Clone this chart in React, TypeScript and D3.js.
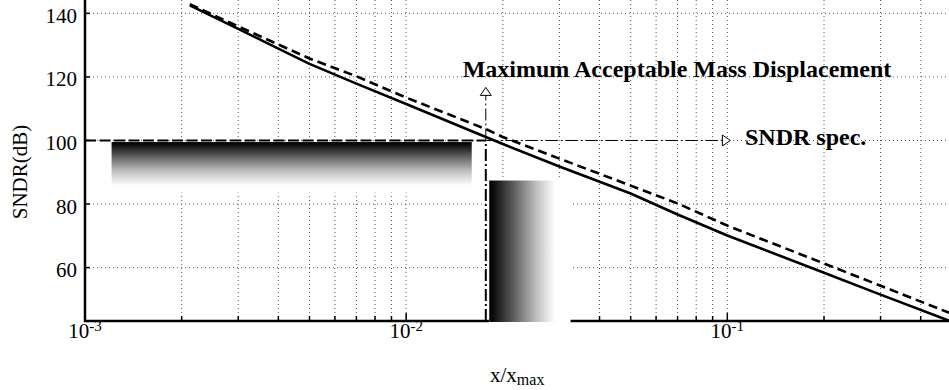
import React from 'react';
import * as d3 from 'd3';

// ---- data ----
const xPoints = [0.00212, 0.003, 0.004, 0.005, 0.007, 0.01, 0.0177, 0.02, 0.03, 0.05, 0.07, 0.1, 0.2, 0.3, 0.49];
const sndrSolid = [142.5, 135.1, 128.9, 124.1, 117.9, 111.5, 101.1, 98.9, 91.8, 83.3, 76.7, 70.1, 58.4, 51.5, 43.3];
const sndrDashed = [142.9, 135.9, 130.2, 125.8, 120.2, 113.5, 103.6, 101.1, 94.3, 85.8, 80.2, 73.2, 61.3, 54.3, 45.8];
const yTickValues = [60, 80, 100, 120, 140];
const xMajorValues = [0.001, 0.01, 0.1];
const xMajorExponents = ['-3', '-2', '-1'];
const specLevel = 100;
const maxDisplacement = 0.0177;
const arrowUpTop = 116.7;
const arrowRightTip = 0.1022;
const bandH = { x0: 0.00121, x1: 0.016, y0: 99.5, y1: 85.8 };
const bandV = { x0: 0.01814, x1: 0.0291, y0: 87.4 };
const axisGap = [0.0181, 0.0325];

const FONT = '"Liberation Serif", "Times New Roman", serif';

export default function App() {
  const W = 949, H = 390;
  const left = 85, right = 949, top = 0, bottom = 321;
  const x = d3.scaleLog().domain([0.001, 0.49]).range([left, right]);
  const y = d3.scaleLinear().domain([43.2, 144.2]).range([bottom, top]);
  const allTicks = x.ticks();
  const gridX = allTicks.filter((t) => t > 0.0011);
  const isMajor = (t: number) => Math.abs(Math.log10(t) - Math.round(Math.log10(t))) < 1e-6;

  const line = d3.line<[number, number]>().x((d) => x(d[0])).y((d) => y(d[1]));
  const solidPath = line(xPoints.map((v, i) => [v, sndrSolid[i]] as [number, number])) || '';
  const dashedPath = line(xPoints.map((v, i) => [v, sndrDashed[i]] as [number, number])) || '';

  const xv = x(maxDisplacement);
  const ys = y(specLevel);
  const upTipY = y(arrowUpTop);
  const rightTipX = x(arrowRightTip);

  return (
    <svg width={W} height={H} style={{ position: 'absolute', left: 0, top: 0, background: '#fff' }} fontFamily={FONT}>
      <defs>
        <clipPath id="plot">
          <rect x={left} y={top} width={right - left} height={bottom - top} />
        </clipPath>
        <linearGradient id="gradH" x1="0" y1="0" x2="0" y2="1">
          <stop offset="0" stopColor="#000" />
          <stop offset="0.08" stopColor="#111" />
          <stop offset="0.35" stopColor="#666" />
          <stop offset="0.65" stopColor="#bbb" />
          <stop offset="1" stopColor="#fff" />
        </linearGradient>
        <linearGradient id="gradV" x1="0" y1="0" x2="1" y2="0">
          <stop offset="0" stopColor="#000" />
          <stop offset="0.08" stopColor="#111" />
          <stop offset="0.4" stopColor="#666" />
          <stop offset="0.7" stopColor="#bbb" />
          <stop offset="1" stopColor="#fff" />
        </linearGradient>
      </defs>

      {/* grid */}
      <g stroke="#555" strokeWidth={1} strokeDasharray="1,3">
        {yTickValues.map((t) => (
          <line key={'gy' + t} x1={left} x2={right} y1={y(t)} y2={y(t)} />
        ))}
        {gridX.map((t) => (
          <line key={'gx' + t} x1={x(t)} x2={x(t)} y1={top} y2={bottom} />
        ))}
      </g>

      {/* shaded regions with white masks */}
      <rect x={x(bandH.x0) - 1} y={y(bandH.y0) - 1} width={x(bandH.x1) - x(bandH.x0) + 2} height={y(bandH.y1) - y(bandH.y0) + 8} fill="#fff" />
      <rect x={x(bandH.x0)} y={y(bandH.y0)} width={x(bandH.x1) - x(bandH.x0)} height={y(bandH.y1) - y(bandH.y0)} fill="url(#gradH)" />
      <rect x={x(axisGap[0]) - 1} y={y(bandV.y0) - 2} width={x(axisGap[1]) - x(axisGap[0]) + 1} height={bottom - y(bandV.y0) + 6} fill="#fff" />
      <rect x={x(bandV.x0)} y={y(bandV.y0)} width={x(bandV.x1) - x(bandV.x0)} height={bottom - y(bandV.y0) + 1} fill="url(#gradV)" />

      {/* data lines */}
      <g clipPath="url(#plot)" fill="none" stroke="#000">
        <path d={solidPath} strokeWidth={2.6} />
        <path d={dashedPath} strokeWidth={2.6} strokeDasharray="9,5" />
      </g>

      {/* spec horizontal line */}
      <line x1={left} x2={xv} y1={ys} y2={ys} stroke="#000" strokeWidth={2} strokeDasharray="11,3.5" />
      <line x1={xv} x2={rightTipX - 8} y1={ys} y2={ys} stroke="#000" strokeWidth={1} strokeDasharray="12,3,2,3" />
      <polygon points={`${rightTipX},${ys} ${rightTipX - 8},${ys - 5.5} ${rightTipX - 8},${ys + 5.5}`} fill="#fff" stroke="#000" strokeWidth={1} />

      {/* max displacement vertical line */}
      <line x1={xv} x2={xv} y1={bottom} y2={ys} stroke="#000" strokeWidth={2} strokeDasharray="12,3,2,3" />
      <line x1={xv} x2={xv} y1={ys} y2={upTipY + 8} stroke="#000" strokeWidth={1} strokeDasharray="12,3,2,3" />
      <polygon points={`${xv},${upTipY} ${xv - 5.5},${upTipY + 8} ${xv + 5.5},${upTipY + 8}`} fill="#fff" stroke="#000" strokeWidth={1} />

      {/* axes */}
      <line x1={left} x2={left} y1={top} y2={bottom + 1} stroke="#000" strokeWidth={2.5} />
      <line x1={left - 1} x2={x(axisGap[0])} y1={bottom} y2={bottom} stroke="#000" strokeWidth={2.5} />
      <line x1={x(axisGap[1])} x2={right} y1={bottom} y2={bottom} stroke="#000" strokeWidth={2.5} />
      <g stroke="#000" strokeWidth={1.5}>
        {gridX
          .filter((t) => t < axisGap[0] || t > axisGap[1])
          .map((t) => (
            <line key={'tx' + t} x1={x(t)} x2={x(t)} y1={bottom} y2={bottom - (isMajor(t) ? 8 : 5)} />
          ))}
        {yTickValues.map((t) => (
          <line key={'ty' + t} x1={left} x2={left + 5} y1={y(t)} y2={y(t)} />
        ))}
      </g>

      {/* y tick labels */}
      <g fontSize={21} textAnchor="end" fill="#000">
        {yTickValues.map((t) => (
          <text key={'ly' + t} x={77} y={y(t) + 9.5}>
            {t}
          </text>
        ))}
      </g>
      {/* x tick labels */}
      {xMajorValues.map((t, i) => (
        <text key={'lx' + t} x={x(t)} y={338} fontSize={21} textAnchor="middle" fill="#000">
          10
          <tspan fontSize={15} dy={-7}>
            {xMajorExponents[i]}
          </tspan>
        </text>
      ))}

      {/* axis titles */}
      <text x={490} y={382} fontSize={21} fill="#000">
        x/x
        <tspan fontSize={16} dy={3}>
          max
        </tspan>
      </text>
      <text transform="translate(27,172) rotate(-90)" fontSize={21} textAnchor="middle" fill="#000">
        SNDR(dB)
      </text>

      {/* annotations */}
      <text x={462.7} y={76.7} fontSize={24} fontWeight="bold" fill="#000">
        Maximum Acceptable Mass Displacement
      </text>
      <text x={745} y={145} fontSize={24} fontWeight="bold" fill="#000">
        SNDR spec.
      </text>
    </svg>
  );
}
